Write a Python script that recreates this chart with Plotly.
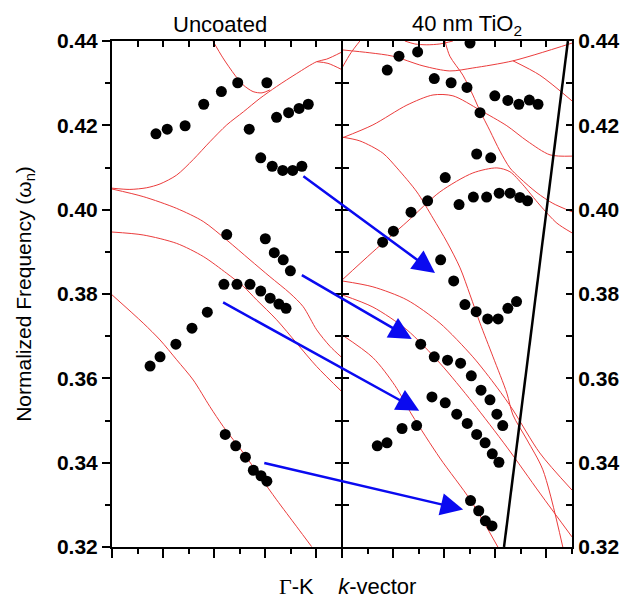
import plotly.graph_objects as go

# ---------------- data (x: k-vector position, 0-9 = Gamma-K uncoated, 9-18 = 40 nm TiO2) ----------
uncoated_x = [1.49, 1.88, 2.50, 3.13, 3.73, 4.38, 4.89, 5.40, 5.82, 6.19, 6.53, 6.81,
              1.72, 2.16, 2.86, 3.59, 4.28, 4.92, 6.06, 5.37, 6.44, 6.91, 7.32, 7.68,
              5.82, 6.27, 6.68, 7.07, 7.43,
              4.49, 6.00, 6.35, 6.70, 6.98,
              4.43, 4.84, 5.22, 5.53, 5.83, 6.06]
uncoated_y = [0.3629, 0.3651, 0.3681, 0.3719, 0.3757, 0.3823, 0.3823, 0.3823, 0.3807, 0.3790, 0.3776, 0.3766,
              0.4180, 0.4191, 0.4199, 0.4250, 0.4280, 0.4301, 0.4301, 0.4191, 0.4219, 0.4230, 0.4240, 0.4250,
              0.4123, 0.4103, 0.4093, 0.4093, 0.4103,
              0.3941, 0.3931, 0.3898, 0.3881, 0.3855,
              0.3467, 0.3440, 0.3413, 0.3382, 0.3369, 0.3356]

coated_x = [14.01, 11.96, 11.23, 10.77, 12.61, 13.27, 13.89, 14.98, 15.49, 15.92, 16.33, 16.67, 14.40,
            14.27, 14.82, 13.04, 12.35, 11.70, 11.01, 10.59,
            13.58, 14.14, 14.66, 15.15, 15.58, 15.96, 16.26,
            12.86, 13.37, 13.81, 14.25, 14.70, 15.11, 15.49, 15.83,
            12.08, 12.61, 13.13, 13.64, 14.06, 14.44, 14.79, 15.06, 15.29,
            12.52, 13.04, 13.49, 13.90, 14.27, 14.60, 14.88, 15.14,
            10.38, 10.76, 11.35, 11.92,
            14.03, 14.35, 14.61, 14.87]
coated_y = [0.4395, 0.4374, 0.4364, 0.4331, 0.4311, 0.4301, 0.4290, 0.4270, 0.4259, 0.4250, 0.4260, 0.4250, 0.4230,
            0.4132, 0.4123, 0.4076, 0.4021, 0.3994, 0.3949, 0.3923,
            0.4012, 0.4030, 0.4030, 0.4039, 0.4039, 0.4029, 0.4021,
            0.3881, 0.3831, 0.3775, 0.3758, 0.3741, 0.3741, 0.3766, 0.3782,
            0.3681, 0.3651, 0.3643, 0.3636, 0.3606, 0.3572, 0.3549, 0.3515, 0.3488,
            0.3556, 0.3542, 0.3515, 0.3493, 0.3467, 0.3447, 0.3421, 0.3401,
            0.3440, 0.3447, 0.3481, 0.3488,
            0.3310, 0.3286, 0.3262, 0.3250]

# calculated bands (uncoated)
band_u1 = [(3.95, 0.4400), (4.34, 0.4360), (4.81, 0.4319), (5.13, 0.4296), (5.52, 0.4280), (5.87, 0.4277), (6.18, 0.4284)]
band_u2 = [(0.0, 0.4051), (0.70, 0.4048), (1.36, 0.4052), (1.88, 0.4061), (2.53, 0.4082), (3.18, 0.4119), (3.83, 0.4161),
           (4.49, 0.4201), (5.14, 0.4232), (5.79, 0.4264), (6.44, 0.4292), (7.23, 0.4323), (8.01, 0.4351), (8.40, 0.4357), (9.0, 0.4374)]
band_u3 = [(0.0, 0.4049), (1.22, 0.4031), (2.53, 0.4003), (3.57, 0.3972), (4.49, 0.3928), (5.40, 0.3881), (6.18, 0.3841),
           (6.96, 0.3802), (7.48, 0.3770), (8.01, 0.3715), (8.53, 0.3676), (9.0, 0.3649)]
band_u4 = [(0.0, 0.3947), (1.22, 0.3940), (2.53, 0.3920), (3.57, 0.3889), (4.49, 0.3849), (5.14, 0.3818), (5.66, 0.3786),
           (6.44, 0.3739), (7.23, 0.3683), (8.01, 0.3628), (9.0, 0.3568)]
band_u5 = [(0.0, 0.3798), (1.22, 0.3731), (1.88, 0.3691), (2.53, 0.3644), (3.18, 0.3596), (3.83, 0.3533), (4.35, 0.3486),
           (5.14, 0.3423), (5.79, 0.3367), (6.44, 0.3312), (7.23, 0.3248), (7.81, 0.3201)]
band_u6 = [(8.01, 0.4351), (8.45, 0.4347), (9.0, 0.4332)]
# calculated bands (40 nm TiO2)
band_c1 = [(9.0, 0.4379), (10.09, 0.4372), (10.99, 0.4364), (12.17, 0.4341), (13.22, 0.4329), (14.12, 0.4336), (15.69, 0.4353), (18.0, 0.4395)]
band_c2 = [(15.69, 0.4353), (16.74, 0.4319), (18.0, 0.4258)]
band_c3 = [(11.46, 0.4400), (11.85, 0.4393), (12.32, 0.4391), (12.83, 0.4393), (13.34, 0.4400)]
band_c4 = [(13.03, 0.4400), (13.22, 0.4364), (13.73, 0.4319), (14.12, 0.4272), (14.40, 0.4234), (14.79, 0.4187), (15.18, 0.4139),
           (15.57, 0.4099), (15.96, 0.4075), (16.63, 0.4040), (17.25, 0.4015), (18.0, 0.3995)]
band_c5 = [(9.0, 0.4170), (10.21, 0.4201), (11.54, 0.4248), (12.56, 0.4272), (13.34, 0.4270), (14.40, 0.4236), (15.45, 0.4199),
           (16.24, 0.4163), (17.14, 0.4130), (18.0, 0.4127)]
band_c6 = [(9.0, 0.4172), (9.70, 0.4163), (10.60, 0.4134), (11.15, 0.4099), (11.93, 0.4042), (12.56, 0.3980), (13.11, 0.3923),
           (13.62, 0.3862), (14.01, 0.3798), (14.40, 0.3731), (14.91, 0.3651), (15.45, 0.3565), (15.69, 0.3513), (16.24, 0.3454),
           (16.86, 0.3383), (17.64, 0.3200)]
band_c7 = [(9.0, 0.3833), (10.21, 0.3900), (11.54, 0.3971), (12.83, 0.4042), (14.12, 0.4087), (15.06, 0.4099), (15.57, 0.4090),
           (16.08, 0.4059), (16.74, 0.4011), (17.41, 0.3968), (18.0, 0.3945)]
band_c8 = [(9.0, 0.3831), (10.21, 0.3817), (11.54, 0.3786), (12.83, 0.3731), (14.12, 0.3651), (15.06, 0.3579), (15.69, 0.3525),
           (16.74, 0.3423), (18.0, 0.3335)]
band_c9 = [(9.0, 0.3798), (10.21, 0.3769), (11.54, 0.3715), (12.83, 0.3636), (14.12, 0.3542), (15.45, 0.3437), (16.74, 0.3328), (18.0, 0.3224)]
band_c10 = [(9.0, 0.3703), (10.21, 0.3649), (11.07, 0.3583), (11.74, 0.3513), (12.83, 0.3411), (14.04, 0.3310), (15.10, 0.3200)]
band_c11 = [(9.0, 0.4336), (9.35, 0.4372), (9.70, 0.4400)]

bands = [band_u1, band_u2, band_u3, band_u4, band_u5, band_u6,
         band_c1, band_c2, band_c3, band_c4, band_c5, band_c6, band_c7, band_c8, band_c9, band_c10, band_c11]

light_line_x = [15.34, 17.84]
light_line_y = [0.32, 0.44]

# arrows: (tail_x, tail_y, tip_x, tip_y)
arrows = [(7.43, 0.4082, 12.64, 0.3850),
          (7.37, 0.3847, 11.73, 0.3693),
          (4.29, 0.3782, 12.02, 0.3523),
          (5.90, 0.3400, 13.74, 0.3289)]

y_major = [0.32, 0.34, 0.36, 0.38, 0.40, 0.42, 0.44]
y_minor = [0.33, 0.35, 0.37, 0.39, 0.41, 0.43]
y_labels = ["0.32", "0.34", "0.36", "0.38", "0.40", "0.42", "0.44"]
x_major = [0, 2, 4, 6, 8, 9, 11, 13, 15, 17]
x_minor = [1, 3, 5, 7, 10, 12, 14, 16, 18]

# ---------------- figure ----------------
FONT = "Arial, Liberation Sans, sans-serif"
fig = go.Figure()

for b in bands:
    fig.add_trace(go.Scatter(x=[p[0] for p in b], y=[p[1] for p in b], mode="lines",
                             line=dict(color="rgb(235,60,60)", width=1, shape="spline", smoothing=0.8),
                             showlegend=False, hoverinfo="skip"))

fig.add_trace(go.Scatter(x=light_line_x, y=light_line_y, mode="lines",
                         line=dict(color="black", width=2.5), showlegend=False))

fig.add_trace(go.Scatter(x=uncoated_x, y=uncoated_y, mode="markers",
                         marker=dict(color="black", size=11), showlegend=False))
fig.add_trace(go.Scatter(x=coated_x, y=coated_y, mode="markers",
                         marker=dict(color="black", size=11), showlegend=False))

# empty traces so that the decorative frame axes are created
for xa, ya in [("x2", "y"), ("x", "y2"), ("x", "y3"), ("x", "y4")]:
    fig.add_trace(go.Scatter(x=[], y=[], xaxis=xa, yaxis=ya, showlegend=False, hoverinfo="skip"))

for tx, ty, hx, hy in arrows:
    fig.add_annotation(x=hx, y=hy, ax=tx, ay=ty, xref="x", yref="y", axref="x", ayref="y",
                       text="", showarrow=True, arrowhead=2, arrowsize=1.8, arrowwidth=2.5,
                       arrowcolor="rgb(10,10,240)", standoff=0)

common_y = dict(range=[0.32, 0.44], tickmode="array", tickvals=y_major, ticktext=y_labels,
                showgrid=False, zeroline=False, showline=True, linecolor="black", linewidth=2,
                tickcolor="black", tickwidth=2, automargin=False)
boldfont = dict(family=FONT, size=21, color="black", weight="bold")

fig.update_layout(
    width=621, height=590,
    margin=dict(l=104, r=57, t=33, b=51),
    paper_bgcolor="white", plot_bgcolor="white",
    font=dict(family=FONT, color="black"),
    xaxis=dict(range=[0, 18], tickmode="array", tickvals=x_major, showticklabels=False, automargin=False,
               ticks="outside", ticklen=9, tickwidth=2, tickcolor="black",
               minor=dict(tickmode="array", tickvals=x_minor, ticks="outside", ticklen=5, tickwidth=2, tickcolor="black"),
               showgrid=False, zeroline=False, showline=True, linecolor="black", linewidth=2),
    xaxis2=dict(range=[0, 18], overlaying="x", side="top", tickmode="array", tickvals=x_major + x_minor,
                showticklabels=False, ticks="inside", ticklen=6, tickwidth=2, tickcolor="black", automargin=False,
                showgrid=False, zeroline=False, showline=True, linecolor="black", linewidth=2),
    yaxis=dict(**common_y, ticks="outside", ticklen=8, tickfont=boldfont,
               minor=dict(tickmode="array", tickvals=y_minor, ticks="outside", ticklen=5, tickwidth=2, tickcolor="black"),
               title=dict(text="Normalized Frequency (ω<sub>n</sub>)", font=dict(family=FONT, size=21), standoff=20)),
    yaxis2=dict(**common_y, overlaying="y", side="right", ticks="inside", ticklen=6, tickfont=boldfont,
                minor=dict(tickmode="array", tickvals=y_minor, ticks="inside", ticklen=6, tickwidth=2, tickcolor="black")),
    yaxis3=dict(**common_y, overlaying="y", anchor="free", position=0.5, side="right", ticks="inside", ticklen=6,
                showticklabels=False,
                minor=dict(tickmode="array", tickvals=y_minor, ticks="inside", ticklen=6, tickwidth=2, tickcolor="black")),
    yaxis4=dict(**common_y, overlaying="y", anchor="free", position=0.5, side="left", ticks="inside", ticklen=6,
                showticklabels=False,
                minor=dict(tickmode="array", tickvals=y_minor, ticks="inside", ticklen=6, tickwidth=2, tickcolor="black")),
)

fig.add_annotation(x=0.235, y=1.032, xref="paper", yref="paper", text="Uncoated", showarrow=False,
                   font=dict(family=FONT, size=22), xanchor="center", yanchor="middle")
fig.add_annotation(x=0.772, y=1.032, xref="paper", yref="paper", text="40 nm TiO<sub>2</sub>", showarrow=False,
                   font=dict(family=FONT, size=22), xanchor="center", yanchor="middle")
fig.add_annotation(x=0.511, y=-0.079, xref="paper", yref="paper",
                   text="<span style='font-family:Liberation Serif'>Γ</span>-K\u00a0\u00a0\u00a0\u00a0<i>k</i>-vector",
                   showarrow=False, font=dict(family=FONT, size=22), xanchor="center", yanchor="middle")

fig.write_html("out.html")
